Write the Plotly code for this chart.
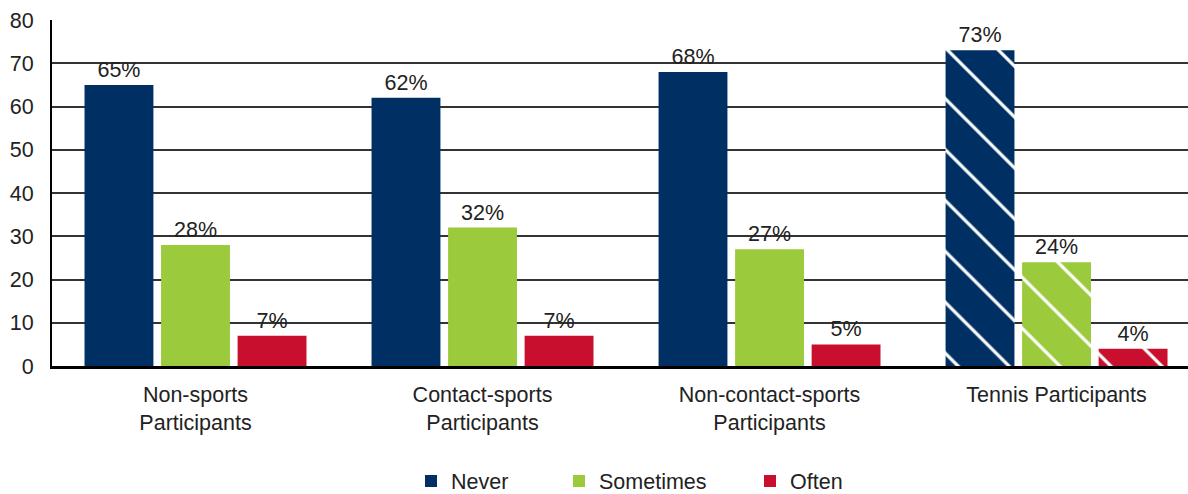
import plotly.graph_objects as go

categories = ["Non-sports<br>Participants", "Contact-sports<br>Participants",
              "Non-contact-sports<br>Participants", "Tennis Participants"]
never = [65, 62, 68, 73]
sometimes = [28, 32, 27, 24]
often = [7, 7, 5, 4]
patterns = ["", "", "", "\\"]

series = [("Never", never, "#003063", "legend"),
          ("Sometimes", sometimes, "#9BCA3C", "legend2"),
          ("Often", often, "#C8102E", "legend3")]

FONT = "Liberation Sans, Arial, Helvetica, sans-serif"
FS = 21.5
fig = go.Figure()
for name, vals, color, lg in series:
    fig.add_trace(go.Bar(
        x=categories, y=vals, name=name, legend=lg,
        marker=dict(color=color, line=dict(width=0),
                    pattern=dict(shape=patterns, fgcolor="white", bgcolor=color, size=36,
                                 solidity=0.09, fillmode="replace")),
        text=[f"{v}%" for v in vals], textposition="outside",
        textfont=dict(size=FS, color="#222", family=FONT),
        cliponaxis=False,
    ))

legend_common = dict(orientation="h", yanchor="middle", yref="container", y=1 - 481 / 494,
                     xref="container", xanchor="left", visible=True,
                     font=dict(size=FS, color="#222", family=FONT),
                     bgcolor="rgba(0,0,0,0)", borderwidth=0)
fig.update_layout(
    width=1188, height=494,
    margin=dict(l=52, r=0, t=20, b=128),
    plot_bgcolor="white", paper_bgcolor="white", showlegend=True,
    barmode="group", bargap=0.2, bargroupgap=0.1,
    font=dict(family=FONT, size=FS, color="#222"),
    legend=dict(legend_common, x=411 / 1188),
    legend2=dict(legend_common, x=559 / 1188),
    legend3=dict(legend_common, x=750 / 1188),
    xaxis=dict(range=[-0.5, 3.458], showline=True, linecolor="black", linewidth=3,
               tickfont=dict(size=FS, color="#222"), ticks="", showgrid=False,
               automargin=False, ticklabelstandoff=7),
    yaxis=dict(range=[0, 80], dtick=10, showline=True, linecolor="black", linewidth=2,
               showgrid=True, gridcolor="#333", gridwidth=1.5,
               tickfont=dict(size=FS, color="#222"), ticks="", ticklabelstandoff=12,
               zeroline=False, automargin=False),
)
fig.write_html("out.html", config={"displayModeBar": False},
               post_script="document.body.style.margin='0';document.body.style.overflow='hidden';")
